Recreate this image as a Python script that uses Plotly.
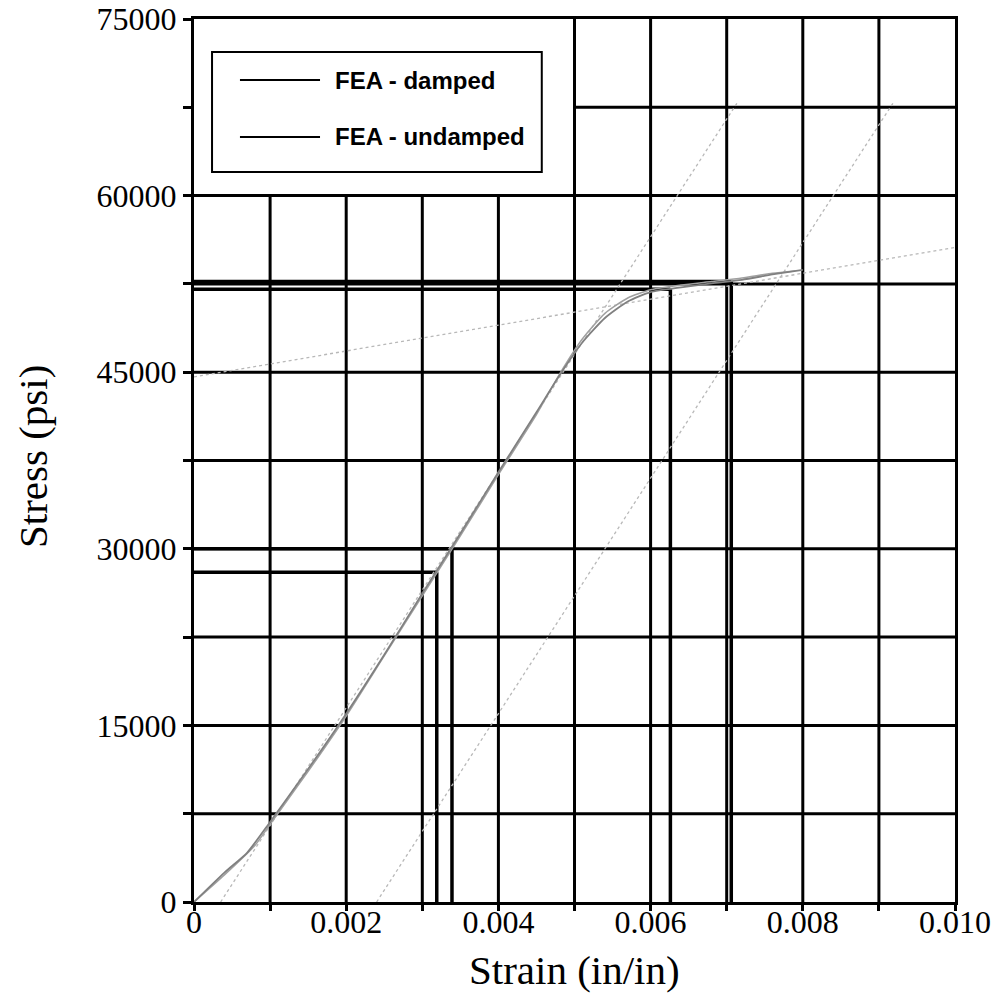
import plotly.graph_objects as go

# ---- data ----
strain_damped = [0, 0.0004, 0.0007, 0.001, 0.0015, 0.002, 0.0025, 0.003, 0.0035, 0.004,
                 0.0045, 0.0048, 0.0051, 0.0054, 0.0057, 0.006, 0.0064, 0.0068, 0.0072, 0.0076, 0.0080]
stress_damped = [0, 2500, 4200, 6800, 11300, 16000, 21000, 26200, 31300, 36500,
                 41600, 44700, 47500, 49600, 51000, 51800, 52200, 52550, 52850, 53300, 53700]
strain_undamped = [0, 0.0004, 0.0008, 0.001, 0.0015, 0.002, 0.0025, 0.003, 0.0035, 0.004,
                   0.0045, 0.0048, 0.0051, 0.0054, 0.0057, 0.006, 0.0064, 0.0068, 0.0072, 0.0076, 0.0079]
stress_undamped = [0, 2300, 4800, 6600, 11100, 15800, 20900, 26000, 31100, 36300,
                   41400, 44800, 47800, 50000, 51300, 52000, 52400, 52700, 53000, 53400, 53600]

elastic_strain = [0.00035, 0.00715]
elastic_stress = [0, 68000]
offset_strain = [0.0024, 0.0092]
offset_stress = [0, 68000]
hardening_strain = [0.0, 0.0100]
hardening_stress = [44600, 55600]

mark_strain = [0.00319, 0.00339, 0.00626, 0.00706]
mark_stress = [28000, 30000, 52050, 52700]

series_names = ["FEA - damped", "FEA - undamped"]
x_title = "Strain (in/in)"
y_title = "Stress (psi)"

x_tickvals = [0, 0.001, 0.002, 0.003, 0.004, 0.005, 0.006, 0.007, 0.008, 0.009, 0.010]
x_ticktext = ["0", "", "0.002", "", "0.004", "", "0.006", "", "0.008", "", "0.010"]
y_tickvals = [0, 7500, 15000, 22500, 30000, 37500, 45000, 52500, 60000, 67500, 75000]
y_ticktext = ["0", "", "15000", "", "30000", "", "45000", "", "60000", "", "75000"]

legend_strain_max = 0.005   # grid is blank behind legend
legend_stress_min = 60000

# ---- figure ----
fig = go.Figure()

guide = dict(color="#b8b8b8", width=1.3, dash="dot")
fig.add_trace(go.Scatter(x=elastic_strain, y=elastic_stress, mode="lines", line=guide, showlegend=False))
fig.add_trace(go.Scatter(x=offset_strain, y=offset_stress, mode="lines", line=guide, showlegend=False))
fig.add_trace(go.Scatter(x=hardening_strain, y=hardening_stress, mode="lines", line=guide, showlegend=False))
fig.add_trace(go.Scatter(x=strain_undamped, y=stress_undamped, mode="lines", name=series_names[1],
                         line=dict(color="#a0a0a0", width=1.5, shape="spline", smoothing=0.6),
                         showlegend=False))
fig.add_trace(go.Scatter(x=strain_damped, y=stress_damped, mode="lines", name=series_names[0],
                         line=dict(color="#808080", width=1.8, shape="spline", smoothing=0.6),
                         showlegend=False))

shapes = []
grid_line = dict(color="black", width=3)
for xv in x_tickvals[1:-1]:
    top = legend_stress_min if xv < legend_strain_max - 1e-9 else y_tickvals[-1]
    shapes.append(dict(type="line", xref="x", yref="y", x0=xv, x1=xv, y0=0, y1=top,
                       line=grid_line, layer="below"))
for yv in y_tickvals[1:-1]:
    left = legend_strain_max if yv > legend_stress_min else 0
    shapes.append(dict(type="line", xref="x", yref="y", x0=left, x1=x_tickvals[-1], y0=yv, y1=yv,
                       line=grid_line, layer="below"))

drop_line = dict(color="black", width=3.5)
for mx, my in zip(mark_strain, mark_stress):
    shapes.append(dict(type="line", xref="x", yref="y", x0=0, x1=mx, y0=my, y1=my,
                       line=drop_line, layer="below"))
    shapes.append(dict(type="line", xref="x", yref="y", x0=mx, x1=mx, y0=0, y1=my,
                       line=drop_line, layer="below"))

# legend box (manual, long sample lines as in the reference)
shapes.append(dict(type="rect", xref="paper", yref="paper", x0=0.0237, x1=0.457, y0=0.8267, y1=0.9626,
                   line=dict(color="black", width=2), fillcolor="white", layer="above"))
leg_y = [0.9309, 0.8664]
annotations = []
for name, ly in zip(series_names, leg_y):
    shapes.append(dict(type="line", xref="paper", yref="paper", x0=0.0604, x1=0.1656, y0=ly, y1=ly,
                       line=dict(color="black", width=2), layer="above"))
    annotations.append(dict(xref="paper", yref="paper", x=0.1827, y=ly, xanchor="left", yanchor="middle",
                            text=name, showarrow=False,
                            font=dict(family="Liberation Sans", size=24, color="black", weight="bold")))

tick_font = dict(family="Liberation Serif", size=32, color="black")
title_font = dict(family="Liberation Serif", size=41, color="black")

# axis titles placed as annotations for exact placement
annotations.append(dict(xref="paper", yref="paper", x=0.5, y=-0.077, xanchor="center", yanchor="middle",
                        text=x_title, showarrow=False, font=title_font))
annotations.append(dict(xref="paper", yref="paper", x=-0.2116, y=0.505, xanchor="center", yanchor="middle",
                        text=y_title, showarrow=False, font=title_font, textangle=-90))

fig.update_layout(
    width=1003, height=997,
    margin=dict(l=194, r=48, t=19, b=95, autoexpand=False),
    paper_bgcolor="white", plot_bgcolor="white",
    shapes=shapes, annotations=annotations,
    showlegend=False,
)
fig.update_xaxes(range=[0, 0.010], showgrid=False, zeroline=False, automargin=False,
                 showline=True, mirror=True, linecolor="black", linewidth=3,
                 ticks="outside", ticklen=6, tickwidth=2.5, tickcolor="black",
                 ticklabelstandoff=-16,
                 tickvals=x_tickvals, ticktext=x_ticktext, tickfont=tick_font)
fig.update_yaxes(range=[0, 75000], showgrid=False, zeroline=False, automargin=False,
                 showline=True, mirror=True, linecolor="black", linewidth=3,
                 ticks="outside", ticklen=8, tickwidth=2.5, tickcolor="black",
                 tickvals=y_tickvals, ticktext=y_ticktext, tickfont=tick_font)

fig.write_html("out.html")
